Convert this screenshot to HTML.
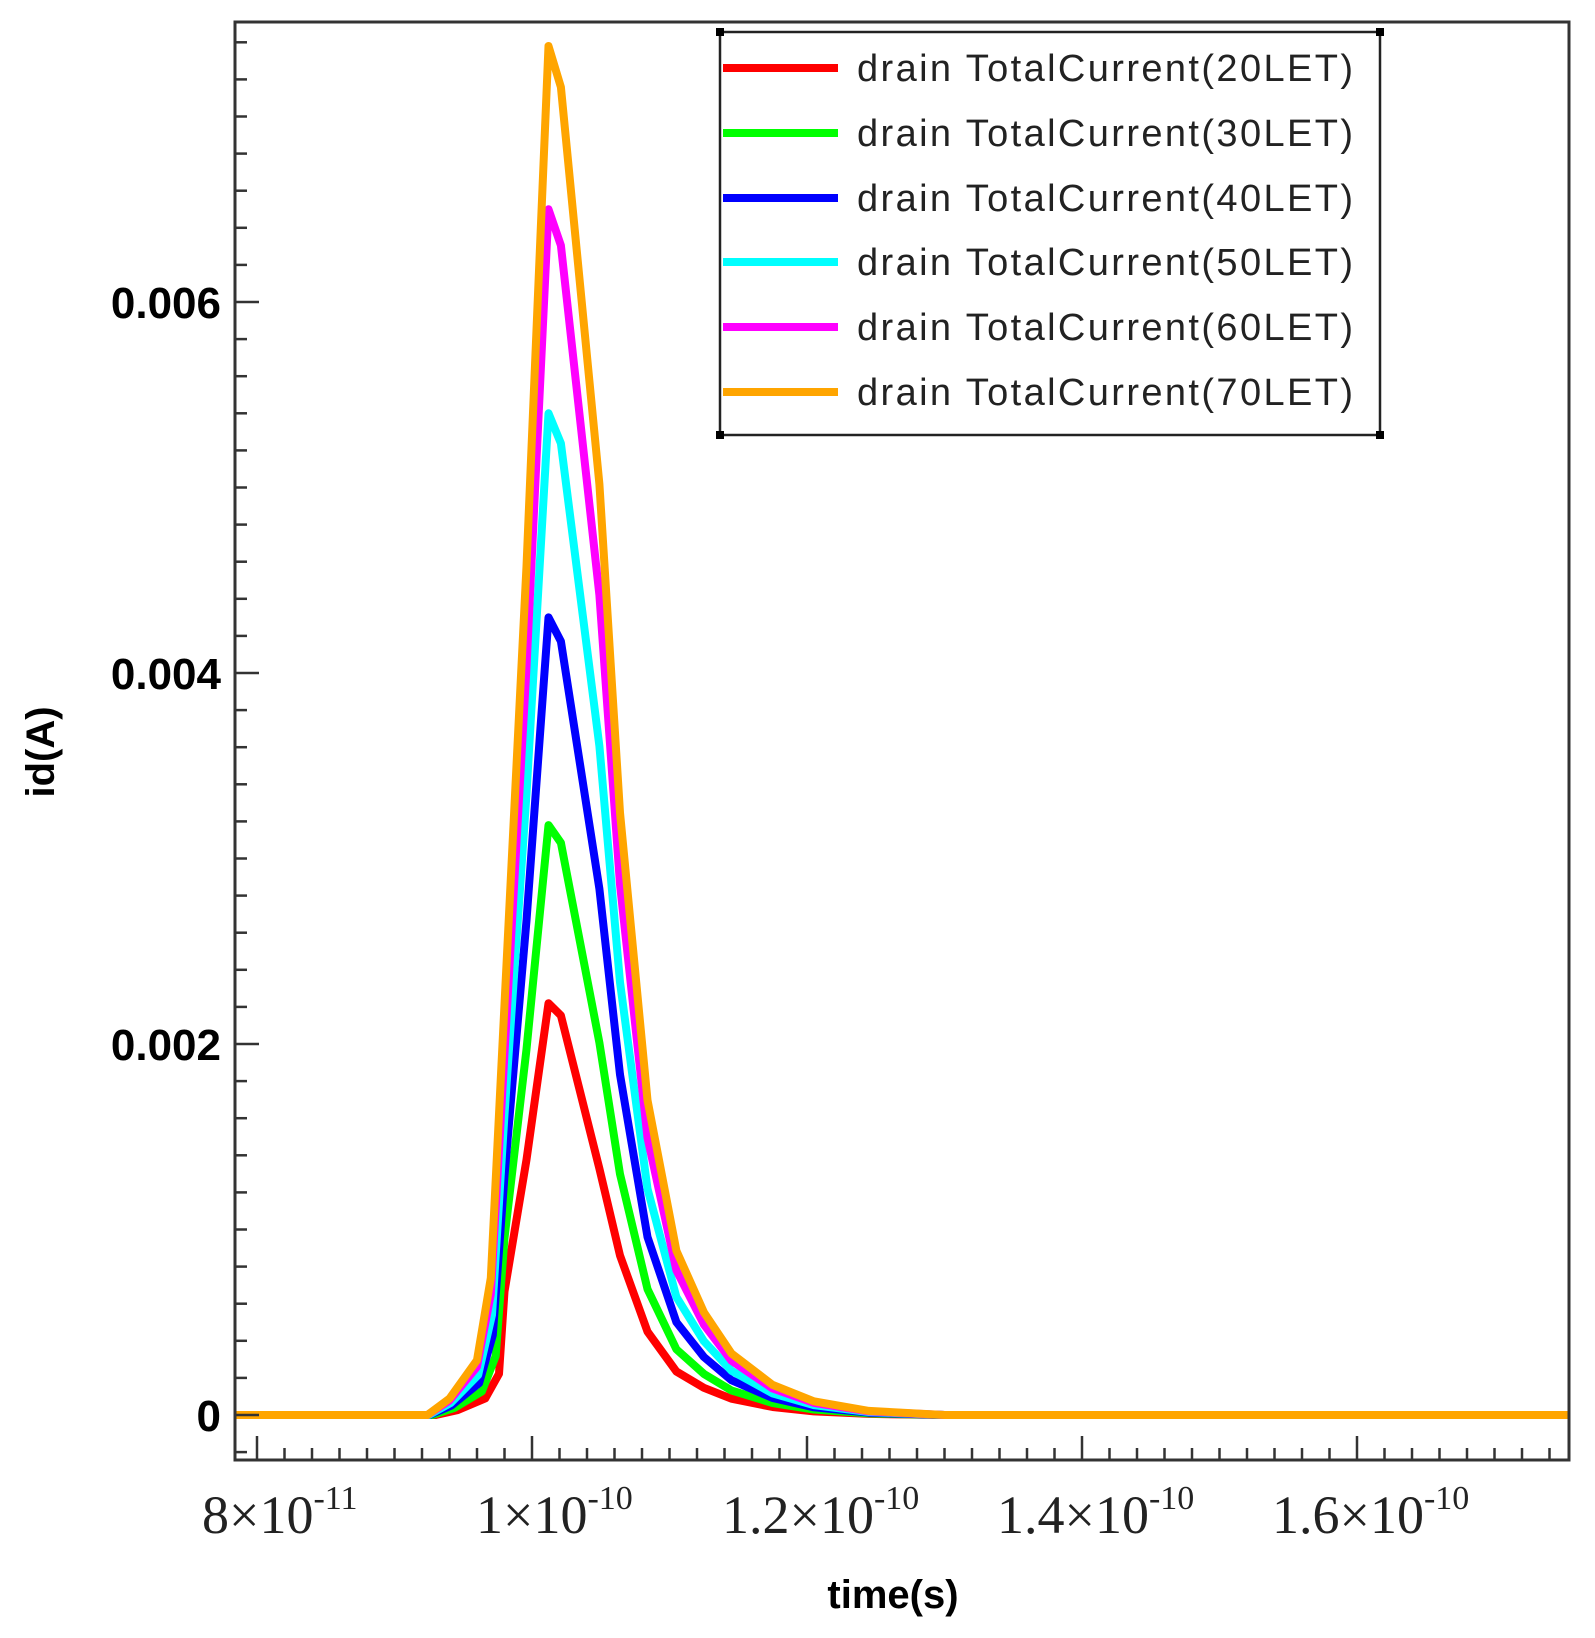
<!DOCTYPE html>
<html><head><meta charset="utf-8"><style>
html,body{margin:0;padding:0;background:#fff;}
svg{display:block;}
</style></head><body>
<svg id="s" width="1595" height="1638" viewBox="0 0 1595 1638" xmlns="http://www.w3.org/2000/svg">
<rect width="1595" height="1638" fill="#fff"/>
<g id="curves" fill="none" stroke-width="8" stroke-linejoin="round"></g>
<g id="ticks" stroke="#333" stroke-width="2.5"></g>
<rect x="235" y="22" width="1334" height="1438" fill="none" stroke="#333" stroke-width="3"/>
<g font-family="Liberation Sans, sans-serif" font-weight="bold" font-size="44" text-anchor="end" fill="#000">
<text x="221" y="318">0.006</text>
<text x="221" y="689">0.004</text>
<text x="221" y="1060">0.002</text>
<text x="221" y="1431">0</text>
</g>
<g font-family="Liberation Serif, serif" font-size="54" fill="#222">
<text x="202" y="1533">8×10<tspan font-size="34" dy="-24">-11</tspan></text>
<text x="476" y="1533">1×10<tspan font-size="34" dy="-24">-10</tspan></text>
<text x="722" y="1533">1.2×10<tspan font-size="34" dy="-24">-10</tspan></text>
<text x="997" y="1533">1.4×10<tspan font-size="34" dy="-24">-10</tspan></text>
<text x="1272" y="1533">1.6×10<tspan font-size="34" dy="-24">-10</tspan></text>
</g>
<text x="893" y="1608" font-family="Liberation Sans, sans-serif" font-weight="bold" font-size="40" text-anchor="middle">time(s)</text>
<text transform="translate(54,752) rotate(-90)" font-family="Liberation Sans, sans-serif" font-weight="bold" font-size="40" text-anchor="middle">id(A)</text>
<g>
<rect x="720" y="32" width="660" height="403" fill="#fff" stroke="#222" stroke-width="2.5"/>
<rect x="716" y="28" width="8" height="8" fill="#000"/><rect x="1376" y="28" width="8" height="8" fill="#000"/>
<rect x="716" y="431" width="8" height="8" fill="#000"/><rect x="1376" y="431" width="8" height="8" fill="#000"/>
<g stroke-width="8">
<line x1="723" y1="68" x2="838" y2="68" stroke="#f00"/>
<line x1="723" y1="133" x2="838" y2="133" stroke="#0f0"/>
<line x1="723" y1="198" x2="838" y2="198" stroke="#00f"/>
<line x1="723" y1="262" x2="838" y2="262" stroke="#0ff"/>
<line x1="723" y1="327" x2="838" y2="327" stroke="#f0f"/>
<line x1="723" y1="392" x2="838" y2="392" stroke="#ffa500"/>
</g>
<g font-family="Liberation Sans, sans-serif" font-size="38" fill="#222">
<text x="857" y="81" textLength="496">drain TotalCurrent(20LET)</text>
<text x="857" y="146" textLength="496">drain TotalCurrent(30LET)</text>
<text x="857" y="211" textLength="496">drain TotalCurrent(40LET)</text>
<text x="857" y="275" textLength="496">drain TotalCurrent(50LET)</text>
<text x="857" y="340" textLength="496">drain TotalCurrent(60LET)</text>
<text x="857" y="405" textLength="496">drain TotalCurrent(70LET)</text>
</g>
</g>
</svg>
<script>
var NS="http://www.w3.org/2000/svg";
function X(t){return 532+(t-100)*13.75;}
function Y(i){return 1415-i*185500;}
var tk=document.getElementById('ticks'),s='';
for(var k=-1;k<=48;k++){var t=80+k*2;var x=X(t);if(x<236||x>1568)continue;var L=(k%10==0)?24:12;s+='<line x1="'+x+'" y1="1460" x2="'+x+'" y2="'+(1460-L)+'"/>';}
for(var k=-1;k<=37;k++){var v=k*0.0002;var y=Y(v);if(y<23||y>1459)continue;var L=(k%10==0)?24:12;s+='<line x1="235" y1="'+y+'" x2="'+(235+L)+'" y2="'+y+'"/>';}
tk.innerHTML=s;
var shape=[[78.4,0],[92.4,0],[94,0.012],[96,0.04],[97,0.1],[98,0.3],[99.6,0.62],[101.2,1.0],[102.1,0.97],[104.9,0.68],[106.4,0.44],[108.4,0.23],[110.5,0.12],[112.5,0.075],[114.5,0.045],[117.5,0.022],[120.5,0.01],[124.5,0.003],[130,0],[175.5,0]];
var series=[["#f00",0.00222,0.2],["#0f0",0.00318,0.12],["#00f",0.0043,0.05],["#0ff",0.0054,0.03],["#f0f",0.0065,0],["#ffa500",0.00738,0]];
var g=document.getElementById('curves'),h='';
series.forEach(function(se){var p=[];shape.forEach(function(pt,i){var t=pt[0],v=pt[1];
 if(se[2]>0&&t>92&&t<98){t+=se[2]*3;}
 if(t>=104&&t<=125){v*=1-se[2]*0.6;}
 p.push(X(t).toFixed(1)+','+Y(v*se[1]).toFixed(1));});
 h+='<polyline stroke="'+se[0]+'" points="'+p.join(' ')+'"/>';});
g.innerHTML=h;
</script>
</body></html>
